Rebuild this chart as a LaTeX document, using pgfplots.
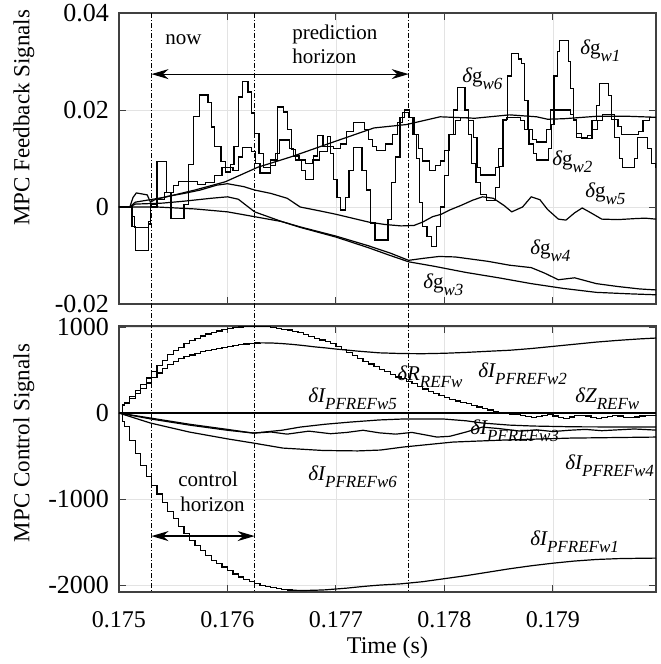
\documentclass[border=0pt]{standalone}
\usepackage{fontspec}
\setmainfont{Liberation Serif}
\usepackage{pgfplots}
\pgfplotsset{compat=1.18}
\usetikzlibrary{arrows.meta}

\newcommand{\sub}[1]{\raisebox{-3.5pt}{\fontsize{8.5}{9}\selectfont\itshape #1}}
\newcommand{\dg}[1]{{\itshape δ}g\sub{#1}}
\newcommand{\dI}[2]{{\itshape δ#1}\sub{#2}}

\pgfplotsset{
  base/.style={
    scale only axis, width=268.5pt,
    xmin=0.175, xmax=0.17995,
    xtick={0.175,0.176,0.177,0.178,0.179},
    scaled x ticks=false, scaled y ticks=false,
    grid=major, major grid style={gray!22, line width=0.4pt},
    axis line style={black!75, line width=0.55pt},
    tick style={black!75, line width=0.5pt},
    tick align=inside, major tick length=3.5pt,
    xticklabel style={font=\fontsize{12}{14}\selectfont, anchor=base, yshift=-17.5pt},
    yticklabel style={font=\fontsize{13}{15}\selectfont, xshift=-1.5pt},
    /pgf/number format/assume math mode=true,
    /pgf/number format/1000 sep={},
    ylabel style={font=\fontsize{11.5}{13}\selectfont},
    xlabel style={font=\fontsize{12}{14}\selectfont},
    cycle list={{black,mark=none}},
    every axis plot/.append style={black, line width=0.6pt, mark=none},
    clip mode=individual,
  },
}
\tikzset{
  lab/.style={font=\fontsize{10.5}{12}\selectfont, inner sep=0pt, anchor=base west},
  vl/.style={line width=0.4pt, dash pattern=on 2.5pt off 1pt on 0.5pt off 1pt},
  harr/.style={line width=0.6pt, {Stealth[length=8.5pt,width=5pt]}-{Stealth[length=8.5pt,width=5pt]}},
}

\begin{document}
\begin{tikzpicture}
%================= TOP =================
\begin{axis}[base, name=top, height=145.5pt,
  ymin=-0.02, ymax=0.04, ytick={-0.02,0,0.02,0.04},
  yticklabel style={/pgf/number format/fixed, /pgf/number format/precision=2},
  xticklabels={},
  ylabel={MPC Feedback Signals},
  ylabel style={at={(axis description cs:-0.177,0.64)}, anchor=center},
]
% oscillating signal 1
\addplot[const plot] coordinates {(0.17500,0) (0.17510,0) (0.17512,-0.0040) (0.17515,-0.0089) (0.17527,-0.0035) (0.17529,0) (0.17535,0.0093) (0.17544,0.0030) (0.17548,-0.0023) (0.17560,0.0005) (0.17564,0.0087) (0.17569,0.0186) (0.17574,0.0231) (0.17582,0.0215) (0.17585,0.0165) (0.17588,0.0124) (0.17594,0.0093) (0.17598,0.0072) (0.17603,0.0087) (0.17606,0.0124) (0.17610,0.0227) (0.17614,0.0258) (0.17619,0.0237) (0.17622,0.0194) (0.17625,0.0152) (0.17629,0.0110) (0.17633,0.0082) (0.17640,0.0097) (0.17646,0.0206) (0.17652,0.0196) (0.17655,0.0159) (0.17659,0.0118) (0.17663,0.0097) (0.17668,0.0076) (0.17672,0.0056) (0.17679,0.0105) (0.17683,0.0148) (0.17688,0.0125) (0.17692,0.0145) (0.17695,0.0110) (0.17698,0.0056) (0.17701,0.0020) (0.17704,-0.0006) (0.17709,0.0020) (0.17712,0.0076) (0.17716,0.0122) (0.17724,0.0076) (0.17728,0.0035) (0.17732,-0.0033) (0.17736,-0.0068) (0.17748,-0.0025) (0.17751,0.0050) (0.17755,0.0103) (0.17759,0.0185) (0.17763,0.0200) (0.17768,0.0185) (0.17771,0.0150) (0.17774,0.0100) (0.17777,0.0010) (0.17780,-0.0040) (0.17784,-0.0060) (0.17788,-0.0082) (0.17793,-0.0040) (0.17796,0.0000) (0.17800,0.0065) (0.17804,0.0150) (0.17808,0.0200) (0.17812,0.0247) (0.17819,0.0200) (0.17822,0.0150) (0.17825,0.0090) (0.17829,0.0050) (0.17833,0.0025) (0.17839,0.0014) (0.17847,0.0040) (0.17851,0.0084) (0.17854,0.0180) (0.17858,0.0270) (0.17862,0.0317) (0.17868,0.0305) (0.17871,0.0296) (0.17874,0.0220) (0.17877,0.0160) (0.17881,0.0140) (0.17885,0.0134) (0.17894,0.0159) (0.17898,0.0200) (0.17901,0.0270) (0.17904,0.0320) (0.17906,0.0344) (0.17914,0.0300) (0.17916,0.0245) (0.17919,0.0180) (0.17922,0.0144) (0.17932,0.0148) (0.17936,0.0179) (0.17940,0.0210) (0.17943,0.0255) (0.17951,0.0230) (0.17954,0.0180) (0.17957,0.0144) (0.17961,0.0100) (0.17964,0.0082) (0.17975,0.0100) (0.17978,0.0144) (0.17987,0.0120) (0.17991,0.0090) (0.17995,0.0080)};
% oscillating signal 2
\addplot[const plot] coordinates {(0.17500,0) (0.17510,0) (0.17512,-0.0020) (0.17514,-0.0043) (0.17527,-0.0030) (0.17529,0.0005) (0.17535,0.0015) (0.17542,0.0030) (0.17550,0.0045) (0.17555,0.0052) (0.17572,0.0047) (0.17580,0.0050) (0.17588,0.0065) (0.17595,0.0082) (0.17605,0.0075) (0.17610,0.0103) (0.17614,0.0122) (0.17622,0.0115) (0.17626,0.0090) (0.17630,0.0070) (0.17640,0.0085) (0.17644,0.0110) (0.17648,0.0138) (0.17657,0.0120) (0.17661,0.0105) (0.17666,0.0097) (0.17672,0.0090) (0.17678,0.0097) (0.17685,0.0115) (0.17692,0.0125) (0.17698,0.0120) (0.17704,0.0130) (0.17710,0.0155) (0.17716,0.0175) (0.17726,0.0160) (0.17730,0.0140) (0.17734,0.0125) (0.17737,0.0117) (0.17746,0.0130) (0.17752,0.0150) (0.17757,0.0175) (0.17761,0.0195) (0.17768,0.0185) (0.17772,0.0150) (0.17776,0.0120) (0.17780,0.0095) (0.17786,0.0076) (0.17792,0.0085) (0.17796,0.0095) (0.17800,0.0117) (0.17805,0.0150) (0.17810,0.0179) (0.17815,0.0185) (0.17822,0.0179) (0.17827,0.0144) (0.17830,0.0082) (0.17833,0.0066) (0.17847,0.0082) (0.17850,0.0120) (0.17854,0.0179) (0.17857,0.0185) (0.17870,0.0179) (0.17874,0.0159) (0.17878,0.0130) (0.17882,0.0110) (0.17885,0.0097) (0.17896,0.0120) (0.17899,0.0170) (0.17901,0.0200) (0.17916,0.0190) (0.17919,0.0179) (0.17922,0.0152) (0.17926,0.0142) (0.17936,0.0160) (0.17941,0.0179) (0.17946,0.0190) (0.17957,0.0180) (0.17960,0.0166) (0.17963,0.0149) (0.17979,0.0155) (0.17983,0.0179) (0.17989,0.0185) (0.17995,0.0185)};
% smooth rising signal
\addplot[sharp plot] coordinates {(0.17500,0) (0.17510,0) (0.17515,0.0010) (0.17542,0.0020) (0.17570,0.0035) (0.17598,0.0052) (0.17628,0.0082) (0.17658,0.0103) (0.17667,0.0110) (0.17695,0.0132) (0.17735,0.0163) (0.17765,0.0170) (0.17796,0.0186) (0.17828,0.0183) (0.17860,0.0190) (0.17885,0.0186) (0.17895,0.0181) (0.17910,0.0182) (0.17940,0.0187) (0.17970,0.0187) (0.17995,0.0185)};
% dg_w5
\addplot[sharp plot] coordinates {(0.17500,0) (0.17510,0) (0.17513,0.0020) (0.17516,0.0029) (0.17526,0.0025) (0.17529,0.0010) (0.17533,0.0015) (0.17545,0.0022) (0.17560,0.0028) (0.17575,0.0035) (0.17590,0.0045) (0.17600,0.0048) (0.17615,0.0042) (0.17625,0.0035) (0.17640,0.0028) (0.17655,0.0018) (0.17667,0.0000) (0.17685,-0.0008) (0.17700,-0.0015) (0.17715,-0.0023) (0.17730,-0.0031) (0.17745,-0.0036) (0.17760,-0.0039) (0.17772,-0.0038) (0.17780,-0.0031) (0.17789,-0.0020) (0.17797,-0.0015) (0.17805,-0.0006) (0.17815,0.0003) (0.17826,0.0014) (0.17835,0.0021) (0.17845,0.0018) (0.17855,0.0003) (0.17862,-0.0010) (0.17872,0.0000) (0.17880,0.0021) (0.17888,0.0015) (0.17895,-0.0005) (0.17905,-0.0025) (0.17912,-0.0027) (0.17920,-0.0012) (0.17927,-0.0002) (0.17935,-0.0012) (0.17945,-0.0025) (0.17960,-0.0026) (0.17975,-0.0024) (0.17985,-0.0023) (0.17995,-0.0025)};
% dg_w4
\addplot[sharp plot] coordinates {(0.17500,0) (0.17510,0) (0.17515,0.0006) (0.17540,0.0008) (0.17560,0.0012) (0.17585,0.0018) (0.17600,0.0021) (0.17610,0.0016) (0.17625,-0.0010) (0.17650,-0.0030) (0.17667,-0.0041) (0.17700,-0.0060) (0.17730,-0.0080) (0.17750,-0.0095) (0.17767,-0.0110) (0.17780,-0.0106) (0.17795,-0.0102) (0.17810,-0.0103) (0.17840,-0.0112) (0.17860,-0.0120) (0.17880,-0.0125) (0.17892,-0.0136) (0.17905,-0.0150) (0.17920,-0.0146) (0.17940,-0.0158) (0.17960,-0.0164) (0.17980,-0.0169) (0.17995,-0.0171)};
% dg_w3
\addplot[sharp plot] coordinates {(0.17500,0) (0.17535,0) (0.17570,-0.0004) (0.17600,-0.0010) (0.17625,-0.0020) (0.17650,-0.0030) (0.17667,-0.0042) (0.17700,-0.0062) (0.17730,-0.0084) (0.17750,-0.0100) (0.17767,-0.0113) (0.17790,-0.0122) (0.17820,-0.0135) (0.17850,-0.0146) (0.17880,-0.0158) (0.17910,-0.0168) (0.17940,-0.0176) (0.17970,-0.0179) (0.17995,-0.0181)};

\draw[harr] (axis cs:0.1753,0.0274) -- (axis cs:0.17767,0.0274);
\node[lab] at (axis cs:0.175424,0.0336) {now};
\node[lab] at (axis cs:0.176594,0.0346) {prediction};
\node[lab] at (axis cs:0.176594,0.02966) {horizon};
\node[lab] at (axis cs:0.179249,0.0315) {\dg{w1}};
\node[lab] at (axis cs:0.178161,0.02575) {\dg{w6}};
\node[lab] at (axis cs:0.178991,0.00865) {\dg{w2}};
\node[lab] at (axis cs:0.179295,0.00206) {\dg{w5}};
\node[lab] at (axis cs:0.178788,-0.00989) {\dg{w4}};
\node[lab] at (axis cs:0.177802,-0.01689) {\dg{w3}};

\coordinate (a1) at (axis cs:0.1753,0.04);
\coordinate (a2) at (axis cs:0.17625,0.04);
\coordinate (a3) at (axis cs:0.17767,0.04);
\end{axis}

%================= BOTTOM =================
\begin{axis}[base, name=bot, at={(top.south west)}, anchor=north west, yshift=-11pt,
  height=133pt,
  ymin=-2080, ymax=1012, ytick={-2000,-1000,0,1000},
  xticklabel style={/pgf/number format/fixed, /pgf/number format/precision=3},
  xlabel={Time (s)},
  xlabel style={at={(axis description cs:0.5,0)}, anchor=base, yshift=-30.5pt},
  ylabel={MPC Control Signals},
  ylabel style={at={(axis description cs:-0.177,0.56)}, anchor=center},
]
% dZ_REFw (zero)
\addplot[sharp plot] coordinates {(0.17500,0) (0.17995,0)};
% dR_REFw
\addplot[const plot] coordinates {(0.17500,0) (0.17503,93) (0.17505,122) (0.17510,193) (0.17515,265) (0.17520,336) (0.17525,408) (0.17530,480) (0.17535,550) (0.17540,615) (0.17545,680) (0.17550,725) (0.17555,765) (0.17560,805) (0.17565,840) (0.17570,870) (0.17575,895) (0.17580,918) (0.17585,938) (0.17590,955) (0.17595,970) (0.17600,982) (0.17605,992) (0.17610,1000) (0.17615,1006) (0.17620,1010) (0.17625,1012) (0.17630,1008) (0.17635,1003) (0.17640,995) (0.17645,986) (0.17650,975) (0.17655,965) (0.17660,950) (0.17665,932) (0.17670,912) (0.17675,892) (0.17680,870) (0.17685,850) (0.17690,830) (0.17695,805) (0.17700,775) (0.17705,740) (0.17710,705) (0.17715,670) (0.17720,635) (0.17725,600) (0.17730,570) (0.17735,540) (0.17740,510) (0.17745,480) (0.17750,450) (0.17755,420) (0.17760,400) (0.17765,370) (0.17770,340) (0.17775,310) (0.17780,280) (0.17785,250) (0.17790,230) (0.17795,205) (0.17800,180) (0.17805,160) (0.17810,140) (0.17815,125) (0.17820,110) (0.17825,90) (0.17830,70) (0.17835,50) (0.17840,35) (0.17845,20) (0.17850,10) (0.17855,0) (0.17860,-10) (0.17865,-20) (0.17870,-30) (0.17875,-40) (0.17880,-50) (0.17885,-40) (0.17890,-25) (0.17895,-20) (0.17900,-35) (0.17905,-55) (0.17910,-60) (0.17915,-45) (0.17920,-30) (0.17925,-25) (0.17930,-35) (0.17935,-50) (0.17940,-60) (0.17945,-55) (0.17950,-40) (0.17955,-30) (0.17960,-35) (0.17965,-50) (0.17970,-55) (0.17975,-45) (0.17980,-35) (0.17985,-30) (0.17990,-25) (0.17995,-20)};
% dI_PFREFw2
\addplot[const plot] coordinates {(0.17500,0) (0.17503,93) (0.17505,110) (0.17510,170) (0.17515,230) (0.17520,290) (0.17525,350) (0.17530,410) (0.17535,465) (0.17540,515) (0.17545,560) (0.17550,598) (0.17555,630) (0.17560,655) (0.17565,676) (0.17570,695) (0.17575,712) (0.17580,727) (0.17585,740) (0.17590,752) (0.17595,764) (0.17600,775) (0.17605,785) (0.17610,795) (0.17615,803) (0.17620,810) (0.17625,814) (0.17630,816)};
\addplot[sharp plot] coordinates {(0.17630,816) (0.17640,815) (0.17650,808) (0.17660,798) (0.17670,785) (0.17680,770) (0.17690,758) (0.17700,744) (0.17720,720) (0.17740,700) (0.17760,692) (0.17780,690) (0.17800,695) (0.17820,705) (0.17840,718) (0.17860,730) (0.17880,750) (0.17900,775) (0.17920,800) (0.17940,825) (0.17960,845) (0.17980,862) (0.17995,872)};
% dI_PFREFw1
\addplot[const plot] coordinates {(0.17500,0) (0.17503,-100) (0.17505,-160) (0.17510,-320) (0.17515,-470) (0.17520,-610) (0.17525,-740) (0.17530,-840) (0.17535,-940) (0.17540,-1040) (0.17545,-1140) (0.17550,-1230) (0.17555,-1320) (0.17560,-1400) (0.17565,-1477) (0.17570,-1540) (0.17575,-1600) (0.17580,-1660) (0.17585,-1710) (0.17590,-1750) (0.17595,-1790) (0.17600,-1830) (0.17605,-1870) (0.17610,-1905) (0.17615,-1935) (0.17620,-1960) (0.17625,-1980) (0.17630,-2000) (0.17635,-2015) (0.17640,-2030) (0.17645,-2040) (0.17650,-2050) (0.17655,-2056) (0.17660,-2060)};
\addplot[sharp plot] coordinates {(0.17660,-2060) (0.17670,-2062) (0.17680,-2060) (0.17690,-2055) (0.17700,-2045) (0.17710,-2035) (0.17720,-2022) (0.17730,-2010) (0.17740,-2000) (0.17760,-1985) (0.17780,-1960) (0.17800,-1925) (0.17820,-1890) (0.17840,-1850) (0.17860,-1810) (0.17880,-1775) (0.17900,-1745) (0.17920,-1720) (0.17940,-1702) (0.17960,-1692) (0.17980,-1688) (0.17995,-1686)};
% dI_PFREFw6
\addplot[sharp plot] coordinates {(0.17500,0) (0.17529,-116) (0.17565,-221) (0.17600,-300) (0.17624,-349) (0.17651,-407) (0.17688,-435) (0.17720,-440) (0.17741,-430) (0.17762,-395) (0.17808,-337) (0.17854,-314) (0.17916,-291) (0.17995,-279)};
% dI_PFREFw3
\addplot[sharp plot] coordinates {(0.17500,0) (0.17530,-60) (0.17565,-130) (0.17600,-190) (0.17624,-233) (0.17650,-200) (0.17667,-163) (0.17690,-130) (0.17713,-105) (0.17740,-80) (0.17760,-70) (0.17800,-70) (0.17820,-90) (0.17835,-116) (0.17860,-140) (0.17882,-151) (0.17920,-160) (0.17995,-163)};
% dI_PFREFw4
\addplot[sharp plot] coordinates {(0.17500,0) (0.17530,-70) (0.17565,-140) (0.17600,-200) (0.17624,-233) (0.17640,-220) (0.17655,-245) (0.17675,-210) (0.17695,-240) (0.17710,-225) (0.17725,-200) (0.17740,-230) (0.17755,-245) (0.17770,-225) (0.17785,-260) (0.17793,-279) (0.17805,-270) (0.17820,-220) (0.17835,-163) (0.17850,-180) (0.17870,-210) (0.17885,-195) (0.17900,-215) (0.17915,-200) (0.17930,-190) (0.17945,-205) (0.17960,-195) (0.17975,-185) (0.17995,-198)};

\draw[harr] (axis cs:0.1753,-1430) -- (axis cs:0.17625,-1430);
\node[lab] at (axis cs:0.175544,-849) {control};
\node[lab] at (axis cs:0.175562,-1140) {horizon};
\node[lab] at (axis cs:0.176742,128) {\dI{I}{PFREFw5}};
\node[lab] at (axis cs:0.177562,384) {\dI{R}{REFw}};
\node[lab] at (axis cs:0.178309,419) {\dI{I}{PFREFw2}};
\node[lab] at (axis cs:0.179203,128) {\dI{Z}{REFw}};
\node[lab] at (axis cs:0.178235,-244) {\dI{I}{PFREFw3}};
\node[lab] at (axis cs:0.179111,-651) {\dI{I}{PFREFw4}};
\node[lab] at (axis cs:0.176742,-779) {\dI{I}{PFREFw6}};
\node[lab] at (axis cs:0.178788,-1535) {\dI{I}{PFREFw1}};

\coordinate (b1) at (axis cs:0.1753,-2080);
\coordinate (b2) at (axis cs:0.17625,-2080);
\coordinate (b3) at (axis cs:0.17767,-2080);
\end{axis}

\draw[vl] (a1) -- (b1);
\draw[vl] (a2) -- (b2);
\draw[vl] (a3) -- (b3);

\pgfresetboundingbox
\path[use as bounding box] (top.north west) ++(-59.5pt,6.5pt) rectangle ([xshift=2.5pt,yshift=-36pt]bot.south east);
\end{tikzpicture}
\end{document}
